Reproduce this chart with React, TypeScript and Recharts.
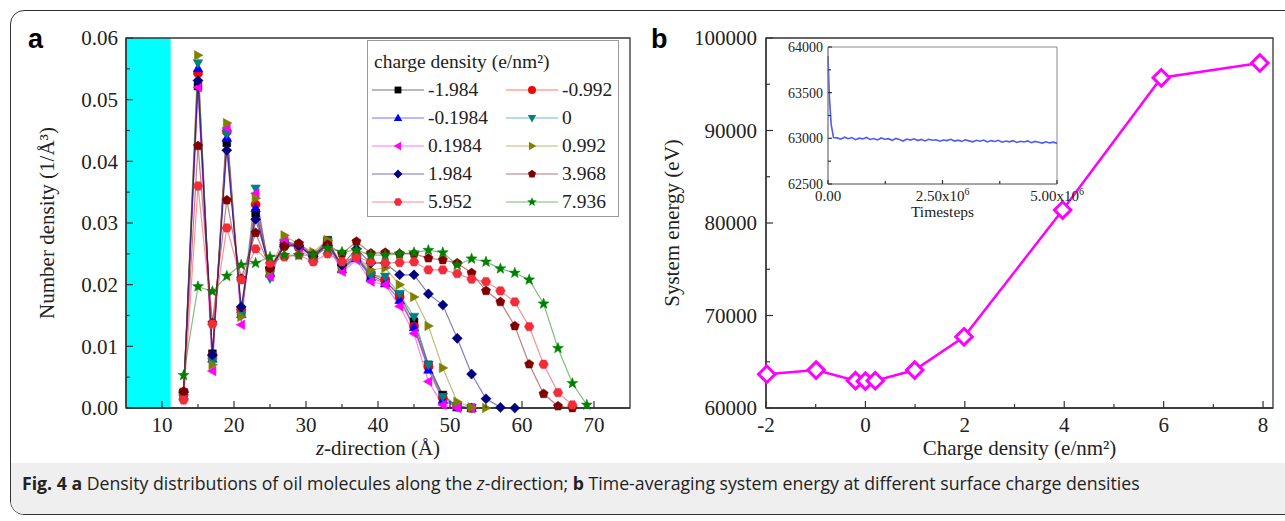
import React from 'react';
import { ComposedChart, Line, XAxis, YAxis, ReferenceArea, Legend, Label } from 'recharts';

const SERIF = '"Liberation Serif", "Times New Roman", serif';
const AXIS = '#333';

// panel a: z positions (Å) and number density for each surface charge
const zPos = [13, 15, 17, 19, 21, 23, 25, 27, 29, 31, 33, 35, 37, 39, 41, 43, 45, 47, 49, 51, 53, 55, 57, 59, 61, 63, 65, 67, 69];

const densNeg1984 = [0.0025, 0.0522, 0.0088, 0.043, 0.0155, 0.0316, 0.0222, 0.0265, 0.0262, 0.0248, 0.0272, 0.0228, 0.0245, 0.0215, 0.0205, 0.0183, 0.014, 0.007, 0.0021, 0.0003, 0];
const densNeg0992 = [0.0022, 0.0543, 0.0085, 0.0448, 0.016, 0.033, 0.0225, 0.0268, 0.0262, 0.0245, 0.027, 0.0232, 0.0248, 0.0218, 0.0208, 0.018, 0.0132, 0.0067, 0.0016, 0.0002, 0];
const densNeg01984 = [0.002, 0.0551, 0.008, 0.0438, 0.0152, 0.0324, 0.0218, 0.027, 0.0265, 0.0243, 0.0268, 0.0225, 0.0243, 0.0212, 0.0202, 0.0175, 0.0131, 0.0062, 0.0013, 0.0001, 0];
const densZero = [0.0022, 0.0559, 0.0075, 0.0445, 0.015, 0.0356, 0.021, 0.0268, 0.0263, 0.0245, 0.027, 0.0228, 0.0245, 0.0215, 0.0213, 0.0185, 0.0148, 0.007, 0.0018, 0.0003, 0];
const densPos01984 = [0.0024, 0.052, 0.006, 0.0454, 0.0135, 0.0348, 0.0213, 0.0272, 0.026, 0.024, 0.0265, 0.0221, 0.024, 0.0205, 0.02, 0.0165, 0.0121, 0.0043, 0.0005, 0, 0];
const densPos0992 = [0.0025, 0.0572, 0.007, 0.0462, 0.0148, 0.034, 0.0222, 0.028, 0.0265, 0.0253, 0.0272, 0.023, 0.0248, 0.0224, 0.0227, 0.02, 0.018, 0.0133, 0.0065, 0.001, 0.0001, 0];
const densPos1984 = [0.0026, 0.0531, 0.0086, 0.0418, 0.0164, 0.0306, 0.0227, 0.0262, 0.0263, 0.0246, 0.0264, 0.0232, 0.0258, 0.0235, 0.0235, 0.0216, 0.0216, 0.0185, 0.0167, 0.0113, 0.0055, 0.0015, 0.0001, 0];
const densPos3968 = [0.0027, 0.0425, 0.0138, 0.0337, 0.021, 0.0284, 0.0227, 0.0262, 0.0267, 0.0248, 0.0265, 0.025, 0.027, 0.0251, 0.0252, 0.025, 0.025, 0.0243, 0.024, 0.0235, 0.0219, 0.019, 0.0172, 0.0133, 0.0071, 0.0023, 0.0003, 0];
const densPos5952 = [0.0013, 0.036, 0.0136, 0.0292, 0.0208, 0.0258, 0.0235, 0.0245, 0.0248, 0.0237, 0.025, 0.0237, 0.0245, 0.0237, 0.0235, 0.0236, 0.0237, 0.0224, 0.0224, 0.0218, 0.0209, 0.0205, 0.019, 0.0172, 0.0132, 0.0071, 0.0025, 0.0005];
const densPos7936 = [0.0053, 0.0197, 0.0189, 0.0214, 0.0232, 0.0235, 0.0245, 0.0248, 0.0248, 0.0248, 0.0259, 0.0253, 0.0256, 0.0248, 0.0248, 0.025, 0.0252, 0.0256, 0.0252, 0.0232, 0.0242, 0.0237, 0.0226, 0.0219, 0.0208, 0.0169, 0.0097, 0.004, 0.0005];

const series = [
  { name: '-1.984', values: densNeg1984, color: '#000000', shape: 'square' },
  { name: '-0.992', values: densNeg0992, color: '#ff0000', shape: 'circle' },
  { name: '-0.1984', values: densNeg01984, color: '#0000ff', shape: 'up' },
  { name: '0', values: densZero, color: '#008080', shape: 'down' },
  { name: '0.1984', values: densPos01984, color: '#ff00ff', shape: 'left' },
  { name: '0.992', values: densPos0992, color: '#808000', shape: 'right' },
  { name: '1.984', values: densPos1984, color: '#000080', shape: 'diamond' },
  { name: '3.968', values: densPos3968, color: '#800000', shape: 'pentagon' },
  { name: '5.952', values: densPos5952, color: '#f22c38', shape: 'hexagon' },
  { name: '7.936', values: densPos7936, color: '#008000', shape: 'star' },
];

// panel b
const chargeDensity = [-1.984, -0.992, -0.1984, 0, 0.1984, 0.992, 1.984, 3.968, 5.952, 7.936];
const systemEnergy = [63650, 64100, 62950, 62900, 62950, 64100, 67700, 81400, 95700, 97300];

// inset: timesteps (x10^6) and energy
const timesteps = [0, 0.03, 0.07, 0.12, 0.2, 0.28, 0.36, 0.44, 0.52, 0.6, 0.68, 0.76, 0.84, 0.92, 1.0, 1.08, 1.16, 1.24, 1.32, 1.4, 1.48, 1.56, 1.64, 1.72, 1.8, 1.88, 1.96, 2.04, 2.12, 2.2, 2.28, 2.36, 2.44, 2.52, 2.6, 2.68, 2.76, 2.84, 2.92, 3.0, 3.08, 3.16, 3.24, 3.32, 3.4, 3.48, 3.56, 3.64, 3.72, 3.8, 3.88, 3.96, 4.04, 4.12, 4.2, 4.28, 4.36, 4.44, 4.52, 4.6, 4.68, 4.76, 4.84, 4.92, 5.0];
const insetEnergy = [63900, 63450, 63150, 63010, 63005, 62990, 63012, 62996, 63008, 62985, 63002, 62994, 63010, 62988, 62998, 62982, 63004, 62990, 62996, 62978, 62999, 62986, 62970, 62992, 62981, 62995, 62976, 62988, 62972, 62990, 62979, 62985, 62968, 62982, 62975, 62990, 62970, 62980, 62966, 62983, 62972, 62962, 62978, 62968, 62981, 62960, 62975, 62966, 62979, 62958, 62970, 62962, 62975, 62955, 62968, 62960, 62972, 62952, 62966, 62957, 62948, 62962, 62950, 62958, 62946];

const densityData = series.map((s) => s.values.map((v, i) => ({ z: zPos[i], v })));
const energyData = chargeDensity.map((c, i) => ({ c, e: systemEnergy[i] }));
const insetData = timesteps.map((t, i) => ({ t, e: insetEnergy[i] }));

function poly(cx: number, cy: number, r: number, pts: number[][]) {
  return pts.map((p, i) => `${i ? 'L' : 'M'}${cx + p[0] * r},${cy + p[1] * r}`).join('') + 'Z';
}

function regular(n: number, start: number, inner?: number) {
  const pts: number[][] = [];
  const total = inner ? n * 2 : n;
  for (let k = 0; k < total; k++) {
    const a = ((start + (360 / total) * k) * Math.PI) / 180;
    const rr = inner && k % 2 ? inner : 1;
    pts.push([Math.cos(a) * rr, Math.sin(a) * rr]);
  }
  return pts;
}

function markerPath(shape: string, cx: number, cy: number, r: number) {
  switch (shape) {
    case 'square': return poly(cx, cy, r * 0.85, [[-1, -1], [1, -1], [1, 1], [-1, 1]]);
    case 'circle': return `M${cx - r},${cy}a${r},${r} 0 1,0 ${2 * r},0a${r},${r} 0 1,0 ${-2 * r},0Z`;
    case 'up': return poly(cx, cy, r * 1.1, [[0, -1], [0.95, 0.7], [-0.95, 0.7]]);
    case 'down': return poly(cx, cy, r * 1.1, [[0, 1], [0.95, -0.7], [-0.95, -0.7]]);
    case 'left': return poly(cx, cy, r * 1.1, [[-1, 0], [0.7, -0.95], [0.7, 0.95]]);
    case 'right': return poly(cx, cy, r * 1.1, [[1, 0], [-0.7, -0.95], [-0.7, 0.95]]);
    case 'diamond': return poly(cx, cy, r * 1.1, [[0, -1], [1, 0], [0, 1], [-1, 0]]);
    case 'pentagon': return poly(cx, cy, r * 1.05, regular(5, -90));
    case 'hexagon': return poly(cx, cy, r * 1.05, regular(6, 0));
    default: return poly(cx, cy, r * 1.25, regular(5, -90, 0.42));
  }
}

const makeDot = (shape: string, color: string, r: number) => (p: any) => (
  <path key={`${shape}-${p.index}`} d={markerPath(shape, p.cx, p.cy, r)} fill={color} stroke={color} strokeWidth={0.5} />
);

// inward ticks drawn next to the axis line, labels only on major values
function tickRenderer(opts: { side: 'bottom' | 'left'; margin: number; isMajor: (v: number) => boolean; format: (v: number) => React.ReactNode; size: number; major?: number; minor?: number }) {
  const { side, margin, isMajor, format, size } = opts;
  const majorLen = opts.major ?? 7;
  const minorLen = opts.minor ?? 4;
  return (p: any) => {
    const v = p.payload.value;
    const major = isMajor(v);
    const len = major ? majorLen : minorLen;
    if (side === 'bottom') {
      const ay = p.y - margin;
      return (
        <g>
          <line x1={p.x} y1={ay} x2={p.x} y2={ay - len} stroke={AXIS} strokeWidth={1.2} />
          {major && (
            <text x={p.x} y={p.y} dy="0.71em" textAnchor="middle" fontFamily={SERIF} fontSize={size} fill="#222">{format(v)}</text>
          )}
        </g>
      );
    }
    const ax = p.x + margin;
    return (
      <g>
        <line x1={ax} y1={p.y} x2={ax + len} y2={p.y} stroke={AXIS} strokeWidth={1.2} />
        {major && (
          <text x={p.x} y={p.y} dy="0.35em" textAnchor="end" fontFamily={SERIF} fontSize={size} fill="#222">{format(v)}</text>
        )}
      </g>
    );
  };
}

const near = (v: number, step: number) => Math.abs(v / step - Math.round(v / step)) < 1e-6;

function LegendBox() {
  return (
    <div style={{ border: '1.5px solid #999', background: '#fff', fontFamily: SERIF, fontSize: 19.5, color: '#222', padding: '7px 0 0 4px', lineHeight: '28px' }}>
      <div style={{ paddingLeft: 2 }}>charge density (e/nm²)</div>
      <div style={{ display: 'grid', gridTemplateColumns: '134px 116px' }}>
        {series.map((s) => (
          <div key={s.name} style={{ display: 'flex', alignItems: 'center', height: 28 }}>
            <svg width={54} height={16} style={{ marginRight: 2 }}>
              <line x1={0} y1={8} x2={52} y2={8} stroke={s.color} strokeOpacity={0.55} strokeWidth={1.2} />
              <path d={markerPath(s.shape, 26, 8, 4)} fill={s.color} />
            </svg>
            <span>{s.name}</span>
          </div>
        ))}
      </div>
    </div>
  );
}

const zTicks = [10, 15, 20, 25, 30, 35, 40, 45, 50, 55, 60, 65, 70];
const densTicks = [0, 0.005, 0.01, 0.015, 0.02, 0.025, 0.03, 0.035, 0.04, 0.045, 0.05, 0.055, 0.06];
const chargeTicks = [-2, -1, 0, 1, 2, 3, 4, 5, 6, 7, 8];
const energyTicks = [60000, 65000, 70000, 75000, 80000, 85000, 90000, 95000, 100000];
const stepTicks = [0, 1.25, 2.5, 3.75, 5];
const insetTicks = [62500, 62750, 63000, 63250, 63500, 63750, 64000];

function DensityPanel() {
  return (
    <ComposedChart width={650} height={470} margin={{ top: 38, right: 20, bottom: 0, left: 0 }}>
      <ReferenceArea x1={5} x2={11.2} y1={0} y2={0.06} fill="#00ffff" fillOpacity={1} stroke="none" />
      <XAxis
        dataKey="z" type="number" domain={[5, 75]} ticks={zTicks} interval={0} height={62}
        axisLine={{ stroke: AXIS, strokeWidth: 1.3 }} tickLine={false} tickSize={0} tickMargin={9}
        tick={tickRenderer({ side: 'bottom', margin: 9, isMajor: (v) => near(v, 10), format: (v) => String(v), size: 21 })}
      >
        <Label content={(p: any) => (
          <text x={p.viewBox.x + p.viewBox.width / 2} y={p.viewBox.y + 47} textAnchor="middle" fontFamily={SERIF} fontSize={21} fill="#222">
            <tspan fontStyle="italic">z</tspan>-direction (Å)
          </text>
        )} />
      </XAxis>
      <YAxis
        type="number" domain={[0, 0.06]} ticks={densTicks} interval={0} width={126}
        axisLine={{ stroke: AXIS, strokeWidth: 1.3 }} tickLine={false} tickSize={0} tickMargin={8}
        tick={tickRenderer({ side: 'left', margin: 8, isMajor: (v) => near(v, 0.01), format: (v) => v.toFixed(2), size: 21 })}
      >
        <Label content={(p: any) => (
          <text x={p.viewBox.x + 47} y={p.viewBox.y + p.viewBox.height / 2} transform={`rotate(-90 ${p.viewBox.x + 47} ${p.viewBox.y + p.viewBox.height / 2})`} dy="0.35em" textAnchor="middle" fontFamily={SERIF} fontSize={21} fill="#222">
            Number density (1/Å³)
          </text>
        )} />
      </YAxis>
      {series.map((s, i) => (
        <Line
          key={s.name} data={densityData[i]} dataKey="v" name={s.name} type="linear"
          stroke={s.color} strokeOpacity={0.5} strokeWidth={1.2}
          dot={makeDot(s.shape, s.color, 4.6)} activeDot={false} isAnimationActive={false}
        />
      ))}
      <ReferenceArea x1={5} x2={75} y1={0} y2={0.06} fill="none" stroke={AXIS} strokeWidth={1.3} />
      <Legend verticalAlign="middle" align="center" content={() => <LegendBox />} wrapperStyle={{ left: 367, top: 40, width: 252, height: 'auto' }} />
    </ComposedChart>
  );
}

function EnergyPanel() {
  return (
    <ComposedChart width={645} height={470} data={energyData} margin={{ top: 38, right: 12, bottom: 0, left: 0 }}>
      <XAxis
        dataKey="c" type="number" domain={[-2, 8.2]} ticks={chargeTicks} interval={0} height={62}
        axisLine={{ stroke: AXIS, strokeWidth: 1.3 }} tickLine={false} tickSize={0} tickMargin={9}
        tick={tickRenderer({ side: 'bottom', margin: 9, isMajor: (v) => near(v, 2), format: (v) => String(v), size: 21 })}
      >
        <Label content={(p: any) => (
          <text x={p.viewBox.x + p.viewBox.width / 2} y={p.viewBox.y + 47} textAnchor="middle" fontFamily={SERIF} fontSize={21} fill="#222">
            Charge density (e/nm²)
          </text>
        )} />
      </XAxis>
      <YAxis
        type="number" domain={[60000, 100000]} ticks={energyTicks} interval={0} width={126}
        axisLine={{ stroke: AXIS, strokeWidth: 1.3 }} tickLine={false} tickSize={0} tickMargin={9}
        tick={tickRenderer({ side: 'left', margin: 9, isMajor: (v) => near(v, 10000), format: (v) => String(v), size: 21 })}
      >
        <Label content={(p: any) => (
          <text x={p.viewBox.x + 32} y={p.viewBox.y + p.viewBox.height / 2} transform={`rotate(-90 ${p.viewBox.x + 32} ${p.viewBox.y + p.viewBox.height / 2})`} dy="0.35em" textAnchor="middle" fontFamily={SERIF} fontSize={21} fill="#222">
            System energy (eV)
          </text>
        )} />
      </YAxis>
      <Line
        dataKey="e" type="linear" stroke="#ff00ff" strokeWidth={2.5} activeDot={false} isAnimationActive={false}
        dot={(p: any) => (
          <path key={`d-${p.index}`} d={markerPath('diamond', p.cx, p.cy, 7.5)} fill="#fff" stroke="#ff00ff" strokeWidth={3} />
        )}
      />
      <ReferenceArea x1={-2} x2={8.2} y1={60000} y2={100000} fill="none" stroke={AXIS} strokeWidth={1.3} />
    </ComposedChart>
  );
}

function InsetPanel() {
  const fmt = (v: number) => v === 0 ? '0.00' : (
    <>
      {v.toFixed(2)}x10<tspan dy="-0.55em" fontSize={10}>6</tspan>
    </>
  );
  return (
    <ComposedChart width={350} height={220} data={insetData} margin={{ top: 7, right: 53, bottom: 0, left: 0 }}>
      <XAxis
        dataKey="t" type="number" domain={[0, 5]} ticks={stepTicks} interval={0} height={76}
        axisLine={{ stroke: '#888', strokeWidth: 1 }} tickLine={false} tickSize={0} tickMargin={6}
        tick={tickRenderer({ side: 'bottom', margin: 6, isMajor: (v) => near(v, 2.5), format: fmt, size: 15, major: 4, minor: 3 })}
      >
        <Label content={(p: any) => (
          <text x={p.viewBox.x + p.viewBox.width / 2} y={p.viewBox.y + 33} textAnchor="middle" fontFamily={SERIF} fontSize={15.5} fill="#222">
            Timesteps
          </text>
        )} />
      </XAxis>
      <YAxis
        type="number" domain={[62500, 64000]} ticks={insetTicks} interval={0} width={68}
        axisLine={{ stroke: '#888', strokeWidth: 1 }} tickLine={false} tickSize={0} tickMargin={5}
        tick={tickRenderer({ side: 'left', margin: 5, isMajor: (v) => near(v, 500), format: (v) => String(v), size: 14, major: 4, minor: 3 })}
      />
      <Line dataKey="e" type="linear" stroke="#2233ee" strokeOpacity={0.8} strokeWidth={1.6} dot={false} activeDot={false} isAnimationActive={false} />
      <ReferenceArea x1={0} x2={5} y1={62500} y2={64000} fill="none" stroke="#888" strokeWidth={1} />
    </ComposedChart>
  );
}

export default function App() {
  return (
    <div style={{ position: 'absolute', left: 0, top: 0, width: 1285, height: 521, background: '#fff', overflow: 'hidden' }}>
      <div style={{ position: 'absolute', left: 10, top: 10, width: 1290, height: 503, border: '1.5px solid #333', borderRadius: 14, overflow: 'hidden' }}>
        <div style={{ position: 'absolute', left: 0, right: 0, top: 452, bottom: 0, background: '#efefef' }} />
      </div>
      <div style={{ position: 'absolute', left: 0, top: 0 }}><DensityPanel /></div>
      <div style={{ position: 'absolute', left: 640, top: 0 }}><EnergyPanel /></div>
      <div style={{ position: 'absolute', left: 760, top: 40 }}><InsetPanel /></div>
      <div style={{ position: 'absolute', left: 28, top: 24, fontFamily: '"Liberation Sans", Arial, sans-serif', fontWeight: 700, fontSize: 27 }}>a</div>
      <div style={{ position: 'absolute', left: 651, top: 24, fontFamily: '"Liberation Sans", Arial, sans-serif', fontWeight: 700, fontSize: 27 }}>b</div>
      <div style={{ position: 'absolute', left: 22, top: 471, fontFamily: '"Open Sans", "Noto Sans", sans-serif', fontSize: 17.7, color: '#222', whiteSpace: 'nowrap' }}>
        <b>Fig. 4</b> <b>a</b> Density distributions of oil molecules along the <i>z</i>-direction; <b>b</b> Time-averaging system energy at different surface charge densities
      </div>
    </div>
  );
}
